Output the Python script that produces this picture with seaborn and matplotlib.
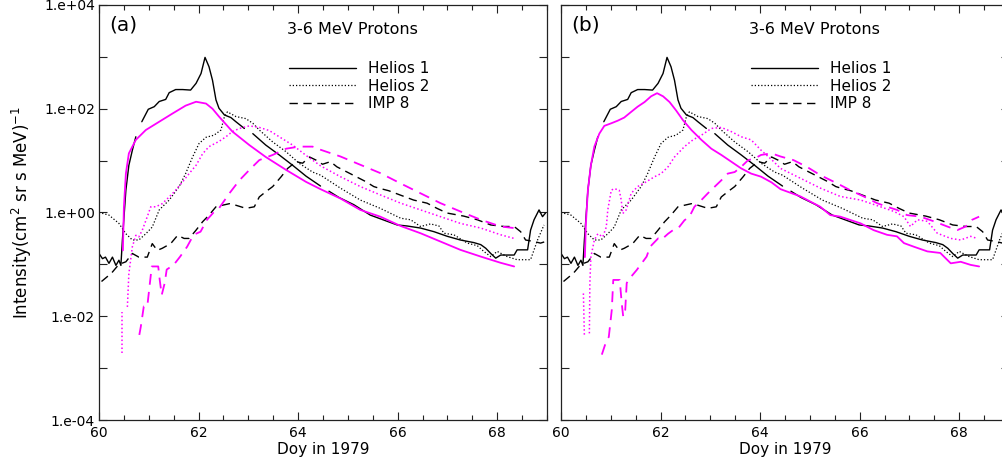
import numpy as np
import pandas as pd
import matplotlib
matplotlib.use("Agg")
import matplotlib.pyplot as plt
import seaborn as sns
from matplotlib.lines import Line2D
from matplotlib.ticker import FixedLocator, FuncFormatter, MultipleLocator, NullFormatter

nan = np.nan

# --- observed intensities (log10), identical in both panels ---
h1_day = [60.00, 60.07, 60.13, 60.20, 60.27, 60.34, 60.40, 60.44, 60.47, 60.54, 60.60, 60.67, 60.74, nan,
          60.86, 60.99, 61.11, 61.21, 61.34, 61.41, 61.54, 61.68, 61.84, 61.95, 62.05, 62.13, 62.21, 62.28,
          62.35, 62.41, 62.52, 62.65, 62.75, 62.92, nan, 63.09, 63.35, 63.62, 63.89, 64.16, 64.45, nan,
          64.62, 64.82, 65.12, 65.45, 65.79, 65.99, 66.19, 66.46, 66.73, 67.00, 67.26, 67.53, 67.67, 67.77,
          67.87, 67.97, 68.07, 68.20, 68.34, 68.40, 68.61, 68.67, 68.74, 68.84, 68.91, 68.97]
h1_log = [-0.79, -0.89, -0.86, -0.98, -0.86, -1.02, -0.92, -1.02, -0.53, 0.43, 0.91, 1.20, 1.46, nan,
          1.75, 1.99, 2.04, 2.14, 2.18, 2.31, 2.37, 2.37, 2.36, 2.49, 2.68, 2.99, 2.81, 2.55,
          2.17, 2.01, 1.88, 1.83, 1.75, 1.62, nan, 1.52, 1.30, 1.11, 0.91, 0.70, 0.51, nan,
          0.41, 0.29, 0.15, -0.05, -0.17, -0.24, -0.26, -0.30, -0.37, -0.46, -0.53, -0.58, -0.62, -0.69,
          -0.79, -0.88, -0.82, -0.82, -0.82, -0.72, -0.72, -0.34, -0.14, 0.05, -0.08, -0.01]

h2_day = [60.00, 60.20, 60.40, 60.54, 60.67, 60.80, 60.94, 61.07, 61.21, 61.41, 61.61, 61.74, 61.88, 62.01,
          62.15, 62.31, 62.45, 62.52, 62.58, 62.75, 62.95, 63.09, 63.22, 63.49, 63.76, 64.02, 64.29, 64.45,
          64.85, 65.25, 65.65, 66.06, 66.26, 66.46, 66.66, 66.83, 66.93, 67.13, 67.40, 67.60, 67.73, 67.87,
          68.00, 68.20, 68.40, 68.67, 68.81, 68.94]
h2_log = [0.00, -0.05, -0.21, -0.41, -0.53, -0.53, -0.41, -0.28, 0.05, 0.24, 0.50, 0.75, 1.07, 1.33,
          1.45, 1.49, 1.59, 1.85, 1.94, 1.85, 1.81, 1.72, 1.59, 1.36, 1.17, 0.95, 0.78, 0.72,
          0.47, 0.24, 0.08, -0.11, -0.14, -0.27, -0.22, -0.26, -0.40, -0.43, -0.59, -0.64, -0.75, -0.85,
          -0.75, -0.85, -0.91, -0.91, -0.53, -0.24]

i8_day = [60.05, 60.25, 60.40, 60.54, 60.67, 60.80, 60.97, 61.07, 61.17, 61.27, 61.44, 61.58, 61.71, 61.81,
          61.95, 62.08, 62.21, 62.35, 62.48, 62.62, 62.75, 62.95, 63.12, 63.22, 63.35, 63.49, 63.66, 63.79,
          63.96, 64.09, 64.23, 64.36, 64.49, 64.65, 64.78, 65.35, 65.52, 65.62, 65.82, 66.32, 66.59, 66.79,
          66.99, 67.33, 67.60, 67.87, 68.14, 68.34, 68.47, 68.57, 68.74, 68.87, 68.97]
i8_log = [-1.33, -1.17, -1.00, -0.95, -0.79, -0.86, -0.86, -0.60, -0.73, -0.69, -0.60, -0.44, -0.50, -0.50,
          -0.34, -0.18, -0.05, 0.11, 0.14, 0.17, 0.14, 0.08, 0.11, 0.30, 0.40, 0.50, 0.69, 0.85,
          0.98, 0.95, 1.07, 1.01, 0.93, 0.98, 0.88, 0.60, 0.50, 0.47, 0.42, 0.24, 0.18, 0.08,
          -0.01, -0.07, -0.14, -0.24, -0.27, -0.27, -0.37, -0.53, -0.56, -0.59, -0.56]

# --- model (a) ---
h1_a_day = [60.48, 60.50, 60.54, 60.60, 60.74, 60.94, 61.21, 61.48, 61.74, 61.95, 62.15, 62.28, 62.41, 62.68,
            63.02, 63.35, 63.76, 64.16, 64.45, 64.85, 65.25, 65.65, 66.06, 66.46, 66.86, 67.26, 67.67, 68.07,
            68.34]
h1_a_log = [-0.73, 0.10, 0.75, 1.14, 1.40, 1.59, 1.75, 1.91, 2.06, 2.135, 2.10, 2.00, 1.85, 1.56,
            1.30, 1.07, 0.82, 0.59, 0.45, 0.27, 0.05, -0.08, -0.26, -0.40, -0.56, -0.72, -0.85, -0.97,
            -1.04]

h2_a_day = [60.47, 60.47, nan, 60.57, 60.60, 60.67, 60.74, 60.80, 60.87, 60.97, 61.04, 61.14, 61.27, 61.41,
            61.54, 61.68, 61.81, 61.95, 62.08, 62.21, 62.41, 62.55, 62.68, 62.82, 63.02, 63.22, 63.42, 63.62,
            63.89, 64.16, 64.45, 64.85, 65.25, 65.65, 66.06, 66.46, 66.86, 67.26, 67.67, 68.07, 68.34]
h2_a_log = [-2.71, -1.92, nan, -1.82, -1.18, -0.66, -0.44, -0.47, -0.34, -0.08, 0.11, 0.11, 0.17, 0.30,
            0.43, 0.59, 0.75, 0.91, 1.13, 1.27, 1.37, 1.46, 1.56, 1.62, 1.67, 1.64, 1.58, 1.46,
            1.30, 1.10, 0.90, 0.69, 0.50, 0.34, 0.18, 0.05, -0.08, -0.21, -0.30, -0.43, -0.50]

i8_a_day = [60.81, 60.84, 60.90, 60.97, 61.06, 61.19, 61.22, 61.26, 61.32, 61.36, 61.50, 61.63, 61.77, 61.90,
            62.04, 62.17, 62.30, 62.41, 62.62, 62.82, 63.02, 63.22, 63.49, 63.76, 64.02, 64.29, 64.45, 64.85,
            65.25, 65.65, 66.06, 66.46, 66.86, 67.26, 67.67, 68.07, 68.34, 68.44]
i8_a_log = [-2.36, -2.20, -1.81, -1.81, -1.04, -1.04, -1.30, -1.59, -1.36, -1.10, -1.01, -0.85, -0.66, -0.43,
            -0.37, -0.14, 0.00, 0.08, 0.37, 0.62, 0.82, 1.01, 1.11, 1.23, 1.27, 1.27, 1.21, 1.08,
            0.92, 0.76, 0.56, 0.37, 0.18, 0.02, -0.14, -0.27, -0.30, -0.34]

# --- model (b) ---
h1_b_day = [60.48, 60.50, 60.54, 60.60, 60.67, 60.77, 60.87, 61.01, 61.14, 61.27, 61.41, 61.54, 61.68, 61.81,
            61.93, 62.05, 62.18, 62.31, 62.45, 62.62, 62.82, 63.02, 63.22, 63.42, 63.62, 63.82, 64.02, 64.23,
            64.41, 64.81, 65.21, 65.41, 65.61, 66.02, 66.28, 66.55, 66.75, 66.89, 67.09, 67.36, 67.62, 67.83,
            68.03, 68.23, 68.40]
h1_b_log = [-0.86, -0.21, 0.43, 0.91, 1.27, 1.52, 1.67, 1.72, 1.77, 1.83, 1.94, 2.04, 2.13, 2.24,
            2.30, 2.24, 2.13, 1.97, 1.78, 1.59, 1.40, 1.23, 1.11, 0.98, 0.85, 0.75, 0.69, 0.58,
            0.45, 0.31, 0.11, -0.05, -0.08, -0.21, -0.34, -0.43, -0.46, -0.59, -0.66, -0.75, -0.78, -0.98,
            -0.95, -1.01, -1.04]

h2_b_day = [60.45, 60.47, nan, 60.57, 60.58, 60.60, 60.67, 60.74, 60.84, 60.91, 60.94, 61.01, 61.07, 61.17,
            61.21, 61.24, 61.31, 61.41, 61.54, 61.71, 61.88, 62.01, 62.15, 62.28, 62.48, 62.65, 62.82, 63.02,
            63.22, 63.42, 63.62, 63.82, 64.02, 64.23, 64.41, 64.81, 65.21, 65.61, 66.02, 66.42, 66.69, 66.89,
            67.02, 67.16, 67.36, 67.56, 67.83, 68.03, 68.23, 68.36]
h2_b_log = [-1.56, -2.39, nan, -2.33, -1.36, -0.86, -0.53, -0.41, -0.47, -0.28, 0.05, 0.43, 0.46, 0.43,
            0.24, -0.02, 0.05, 0.37, 0.50, 0.59, 0.69, 0.75, 0.88, 1.07, 1.27, 1.40, 1.49, 1.62,
            1.64, 1.56, 1.46, 1.40, 1.20, 1.02, 0.85, 0.66, 0.47, 0.31, 0.24, 0.11, 0.02, -0.08,
            -0.27, -0.14, -0.17, -0.40, -0.50, -0.53, -0.46, -0.50]

i8_b_day = [60.82, 60.92, 60.96, 61.02, 61.05, 61.18, 61.22, 61.25, 61.29, 61.32, 61.38, 61.52, 61.72, 61.79,
            61.95, 62.01, 62.15, 62.25, 62.35, 62.48, 62.58, 62.68, 62.82, 62.95, 63.09, 63.22, 63.35, 63.49,
            63.62, 63.76, 63.89, 64.02, 64.23, 64.41, 64.67, 64.94, 65.21, 65.55, 65.81, 66.08, 66.35, 66.55,
            66.75, 66.95, 67.22, 67.49, 67.76, 67.96, 68.13, 68.26, 68.40]
i8_b_log = [-2.74, -2.45, -2.40, -1.88, -1.30, -1.30, -1.75, -2.01, -1.88, -1.36, -1.27, -1.11, -0.85, -0.66,
            -0.50, -0.53, -0.41, -0.34, -0.31, -0.15, -0.08, 0.11, 0.24, 0.37, 0.50, 0.62, 0.75, 0.78,
            0.88, 1.01, 1.04, 1.11, 1.14, 1.08, 1.01, 0.88, 0.72, 0.56, 0.43, 0.31, 0.18, 0.11,
            0.05, -0.05, -0.08, -0.17, -0.27, -0.34, -0.27, -0.14, -0.08]

legend_labels = ["Helios 1", "Helios 2", "IMP 8"]
panel_tags = ["(a)", "(b)"]
y_major = [1e-4, 1e-2, 1e0, 1e2, 1e4]
y_minor = [1e-3, 1e-1, 1e1, 1e3]

MAGENTA = "#ff00ff"
SOLID = "-"
DOTTED = (0, (1, 1.6))
DASHED = (0, (6, 4))


def add_series(ax, day, logv, color, ls, lw):
    df = pd.DataFrame({"day": day, "logI": logv})
    df["seg"] = df["logI"].isna().cumsum()
    df = df.dropna()
    df["intensity"] = 10 ** df["logI"]
    sns.lineplot(data=df, x="day", y="intensity", units="seg", estimator=None, sort=False,
                 color=color, linestyle=ls, lw=lw, legend=False, ax=ax)


sns.set_theme(style="ticks")
plt.rcParams["font.family"] = ["DejaVu Sans"]
plt.rcParams.update({"text.color": "black", "axes.labelcolor": "black",
                     "xtick.color": "black", "ytick.color": "black"})

fig = plt.figure(figsize=(10.03, 4.73), dpi=100)
W, H = 1003, 473
ax_a = fig.add_axes([99 / W, 1 - 420 / H, 448 / W, 415 / H])
ax_b = fig.add_axes([561 / W, 1 - 420 / H, 448 / W, 415 / H])

models = {
    ax_a: [(h1_a_day, h1_a_log), (h2_a_day, h2_a_log), (i8_a_day, i8_a_log)],
    ax_b: [(h1_b_day, h1_b_log), (h2_b_day, h2_b_log), (i8_b_day, i8_b_log)],
}

for ax, tag in zip([ax_a, ax_b], panel_tags):
    ax.set_yscale("log")
    add_series(ax, h1_day, h1_log, "black", SOLID, 1.0)
    add_series(ax, h2_day, h2_log, "black", DOTTED, 0.9)
    add_series(ax, i8_day, i8_log, "black", DASHED, 1.0)
    (m1, m2, m3) = models[ax]
    add_series(ax, *m1, MAGENTA, SOLID, 1.3)
    add_series(ax, *m2, MAGENTA, DOTTED, 1.1)
    add_series(ax, *m3, MAGENTA, DASHED, 1.3)

    ax.set_xlim(60, 69)
    ax.set_ylim(1e-4, 1e4)
    ax.xaxis.set_major_locator(MultipleLocator(2))
    ax.xaxis.set_minor_locator(MultipleLocator(0.5))
    ax.yaxis.set_major_locator(FixedLocator(y_major))
    ax.yaxis.set_minor_locator(FixedLocator(y_minor))
    ax.yaxis.set_major_formatter(FuncFormatter(lambda v, p: f"1.e{int(round(np.log10(v))):+03d}"))
    ax.yaxis.set_minor_formatter(NullFormatter())
    ax.tick_params(which="both", direction="in", top=True, right=True, color="#222222",
                   labelsize=10, width=0.8)
    ax.tick_params(axis="x", which="major", length=6, pad=4)
    ax.tick_params(axis="x", which="minor", length=3.5)
    ax.tick_params(axis="y", which="both", length=5.5, pad=3)
    for sp in ax.spines.values():
        sp.set_visible(True)
        sp.set_color("#222222")
        sp.set_linewidth(0.9)

    ax.set_xlabel("Doy in 1979", fontsize=11, labelpad=2)
    ax.set_ylabel("")
    ax.text(0.022, 0.952, tag, transform=ax.transAxes, fontsize=14.5, ha="left", va="center")
    ax.text(0.565, 0.94, "3-6 MeV Protons", transform=ax.transAxes, fontsize=11.5,
            ha="center", va="center")
    handles = [Line2D([], [], color="black", lw=1.0, ls=SOLID),
               Line2D([], [], color="black", lw=0.9, ls=DOTTED),
               Line2D([], [], color="black", lw=1.0, ls=DASHED)]
    ax.legend(handles, legend_labels, loc="upper left", bbox_to_anchor=(0.424, 0.864),
              borderaxespad=0, borderpad=0, frameon=False, fontsize=11,
              handlelength=4.4, handletextpad=0.8, labelspacing=0.15)

ax_a.set_ylabel("Intensity(cm$^2$ sr s MeV)$^{-1}$", fontsize=12, labelpad=7)
ax_b.tick_params(axis="y", labelleft=False)

fig.savefig("out.png", dpi=100)
